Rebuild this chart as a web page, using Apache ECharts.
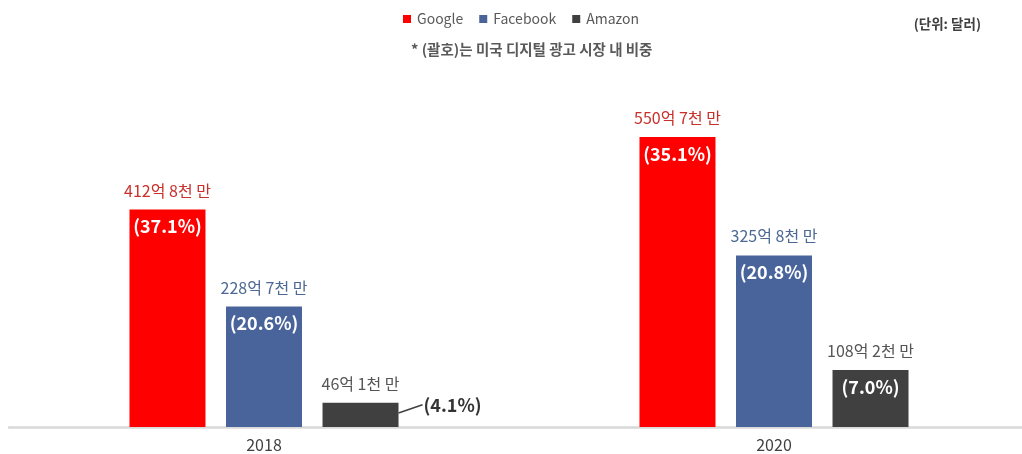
<!DOCTYPE html>
<html>
<head>
<meta charset="utf-8">
<script src="https://cdn.jsdelivr.net/npm/echarts@6/dist/echarts.min.js"></script>
<style>
html,body{margin:0;padding:0;background:#fff;}
#c{width:1022px;height:454px;}
</style>
</head>
<body>
<div id="c"></div>
<script>
// Data (억 달러)
var years = ['2018', '2020'];
var seriesNames = ['Google', 'Facebook', 'Amazon'];
var googleValues = [412.8, 550.7];
var facebookValues = [228.7, 325.8];
var amazonValues = [46.1, 108.2];
var googleLabels = ['412억 8천 만', '550억 7천 만'];
var facebookLabels = ['228억 7천 만', '325억 8천 만'];
var amazonLabels = ['46억 1천 만', '108억 2천 만'];
var googleShare = ['(37.1%)', '(35.1%)'];
var facebookShare = ['(20.6%)', '(20.8%)'];
var amazonShare = ['(4.1%)', '(7.0%)'];
var unitText = '(단위: 달러)';
var noteText = '* (괄호)는 미국 디지털 광고 시장 내 비중';

var FONT = '"Noto Sans CJK KR", "Noto Sans", sans-serif';
var colors = ['#ff0000', '#48649a', '#404040'];
var labelColors = ['#c9302c', '#4d6894', '#555555'];
var values = [googleValues, facebookValues, amazonValues];
var valueLabels = [googleLabels, facebookLabels, amazonLabels];
var shares = [googleShare, facebookShare, amazonShare];
var LEADER_GAP = 25;

var chart = echarts.init(document.getElementById('c'), null, {renderer: 'canvas'});

var series = [];
// visible bars with amount labels on top
seriesNames.forEach(function (name, i) {
  series.push({
    name: name,
    type: 'bar',
    xAxisIndex: 0,
    barWidth: 76,
    barGap: '27%',
    itemStyle: {color: colors[i]},
    label: {
      show: true,
      position: 'top',
      distance: 11,
      fontFamily: FONT,
      fontSize: 16,
      color: labelColors[i],
      formatter: function (p) { return valueLabels[i][p.dataIndex]; }
    },
    data: values[i].slice()
  });
});
// overlay transparent bars with share labels
seriesNames.forEach(function (name, i) {
  var data = values[i].map(function (v, k) {
    var item = {value: v};
    if (i === 2 && k === 0) {
      item.label = {position: 'right', color: '#333333', distance: 4};
    }
    return item;
  });
  series.push({
    name: '_' + name,
    type: 'bar',
    xAxisIndex: 1,
    barWidth: 76,
    barGap: '27%',
    silent: true,
    itemStyle: {color: 'rgba(0,0,0,0)'},
    label: {
      show: true,
      position: 'insideTop',
      distance: 8,
      fontFamily: FONT,
      fontSize: 18,
      fontWeight: 'bold',
      color: '#ffffff',
      formatter: function (p) { return shares[i][p.dataIndex]; }
    },
    labelLayout: function (p) {
      if (i === 2 && p.dataIndex === 0) {
        return {
          x: p.rect.x + p.rect.width + LEADER_GAP,
          y: p.rect.y + 2,
          align: 'left',
          verticalAlign: 'middle'
        };
      }
      return {};
    },
    data: data
  });
});

var option = {
  animation: false,
  backgroundColor: '#ffffff',
  textStyle: {fontFamily: FONT},
  legend: {
    data: seriesNames,
    left: 398,
    top: 7,
    itemWidth: 8,
    itemHeight: 8,
    itemGap: 16,
    icon: 'rect',
    textStyle: {fontFamily: FONT, fontSize: 14, color: '#595959', padding: [0, 0, 0, 1]}
  },
  title: [
    {
      text: unitText,
      right: 36,
      top: 12,
      textStyle: {fontFamily: FONT, fontSize: 13.5, fontWeight: 'bold', color: '#404040'}
    },
    {
      text: noteText,
      left: 406,
      top: 37,
      textStyle: {fontFamily: FONT, fontSize: 14.5, fontWeight: 'bold', color: '#595959'}
    }
  ],
  grid: {
    left: 9,
    width: 1020,
    top: 111,
    bottom: 27,
    outerBoundsMode: 'none',
    containLabel: false
  },
  xAxis: [
    {
      type: 'category',
      data: years,
      axisLine: {show: true, lineStyle: {color: '#d9d9d9', width: 2.5}},
      axisTick: {show: false},
      axisLabel: {fontFamily: FONT, fontSize: 16, color: '#404040', margin: 10}
    },
    {
      type: 'category',
      data: years,
      show: false
    }
  ],
  yAxis: {
    type: 'value',
    min: 0,
    max: 600,
    show: false,
    splitLine: {show: false}
  },
  series: series
};
chart.setOption(option);

// Leader line for the Amazon 2018 share label, derived from the library's bar layout
(function () {
  var seriesModel = chart.getModel().getSeriesByIndex(5);
  var layout = seriesModel.getData().getItemLayout(0);
  if (!layout) return;
  var top = Math.min(layout.y, layout.y + layout.height);
  var h = Math.abs(layout.height);
  var right = layout.x + layout.width;
  chart.setOption({
    graphic: [{
      type: 'line',
      silent: true,
      z: 100,
      shape: {x1: right, y1: top + h * 0.42, x2: right + LEADER_GAP - 1, y2: top + 2},
      style: {stroke: '#404040', lineWidth: 1.5}
    }]
  });
})();
</script>
</body>
</html>
